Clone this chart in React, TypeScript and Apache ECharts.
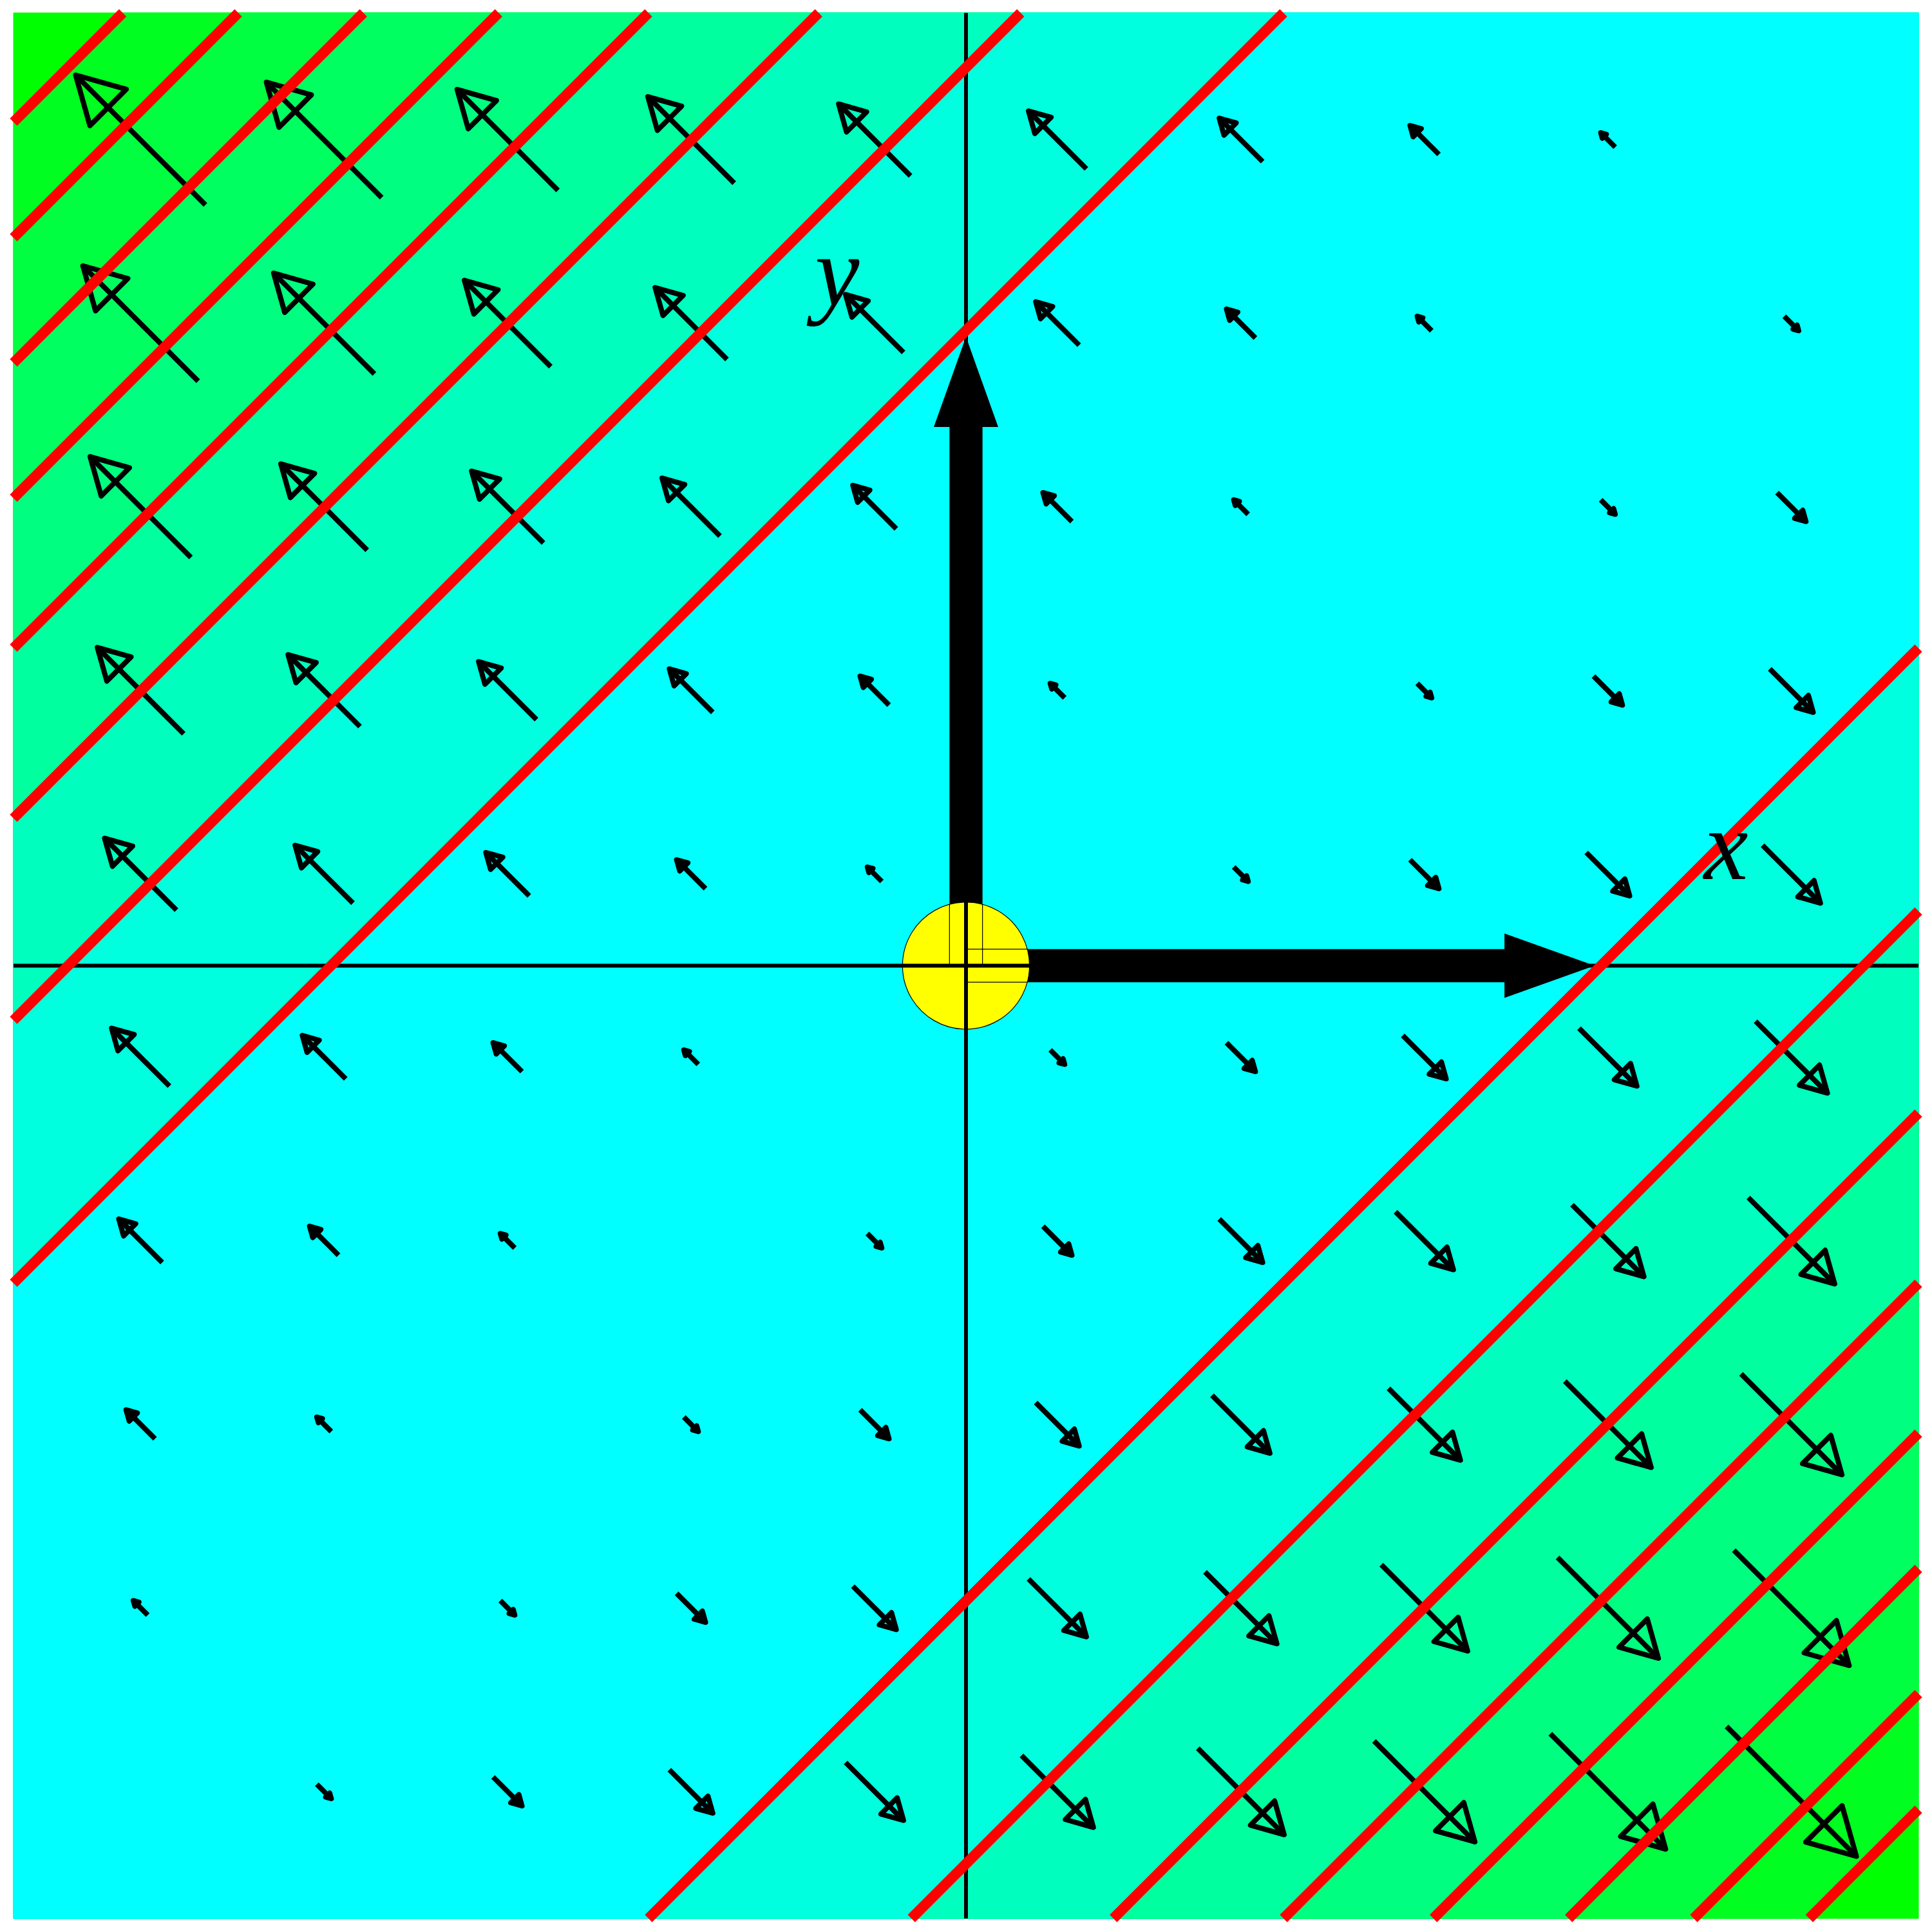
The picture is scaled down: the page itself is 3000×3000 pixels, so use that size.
import React, { useEffect, useRef } from 'react';
import * as echarts from 'echarts';

// Plot domain (both axes)
const axisMin = -1.5;
const axisMax = 1.5;

// Arrow grid (x and y positions of the vector arrows)
const gridValues = [-1.3, -1.011, -0.722, -0.433, -0.144, 0.144, 0.433, 0.722, 1.011, 1.3];

// Field strength d = x - y at each grid node; vector = (d, -d)
// rows from top (y = 1.3) to bottom (y = -1.3), columns left to right
const fieldRows = [
  [-2.6, -2.31, -2.02, -1.73, -1.44, -1.16, -0.87, -0.58, -0.29, 0],
  [-2.31, -2.02, -1.73, -1.44, -1.16, -0.87, -0.58, -0.29, 0, 0.29],
  [-2.02, -1.73, -1.44, -1.16, -0.87, -0.58, -0.29, 0, 0.29, 0.58],
  [-1.73, -1.44, -1.16, -0.87, -0.58, -0.29, 0, 0.29, 0.58, 0.87],
  [-1.44, -1.16, -0.87, -0.58, -0.29, 0, 0.29, 0.58, 0.87, 1.16],
  [-1.16, -0.87, -0.58, -0.29, 0, 0.29, 0.58, 0.87, 1.16, 1.44],
  [-0.87, -0.58, -0.29, 0, 0.29, 0.58, 0.87, 1.16, 1.44, 1.73],
  [-0.58, -0.29, 0, 0.29, 0.58, 0.87, 1.16, 1.44, 1.73, 2.02],
  [-0.29, 0, 0.29, 0.58, 0.87, 1.16, 1.44, 1.73, 2.02, 2.31],
  [0, 0.29, 0.58, 0.87, 1.16, 1.44, 1.73, 2.02, 2.31, 2.6],
];

// Contour levels of |x - y|
const contourLevels = [1, 1.414, 1.732, 2, 2.236, 2.449, 2.646, 2.828];

// Fill colours, innermost band (|x-y| < 1) to outermost
const bandColors = ['#00FFFF', '#00FFDF', '#00FFBF', '#00FF9F', '#00FF80', '#00FF60', '#00FF40', '#00FF20', '#00FF00'];

// Unit axis arrows (tip positions)
const axisArrowTips = [
  [0.99, 0],
  [0, 0.99],
];
const originDiskRadius = 0.1;

const axisLabelTexts = ['x', 'y'];
const axisLabelAnchors = [
  [1.197, 0.189],
  [-0.203, 1.092],
];

const ARROW_SCALE = 0.0786;

export default function App() {
  const ref = useRef<HTMLDivElement>(null);

  useEffect(() => {
    if (!ref.current) return;
    const chart = echarts.init(ref.current, undefined, { renderer: 'svg' });

    const vectorData: number[][] = [];
    fieldRows.forEach((row, r) => {
      row.forEach((d, c) => {
        vectorData.push([gridValues[c], gridValues[gridValues.length - 1 - r], d, -d]);
      });
    });

    const span = axisMax - axisMin;
    const bandData: number[][] = [[span, contourLevels.length]];
    for (let i = contourLevels.length - 1; i >= 0; i--) bandData.push([contourLevels[i], i]);

    const contourData: number[][] = [];
    contourLevels.forEach((c) => {
      contourData.push([c]);
      contourData.push([-c]);
    });

    const lo = axisMin;
    const hi = axisMax;

    const option: any = {
      animation: false,
      tooltip: { show: false },
      grid: { left: 21, right: 21, top: 20, bottom: 21 },
      xAxis: { type: 'value', min: axisMin, max: axisMax, show: false },
      yAxis: { type: 'value', min: axisMin, max: axisMax, show: false },
      series: [
        {
          type: 'custom',
          name: 'bands',
          silent: true,
          z: 1,
          data: bandData,
          renderItem: (params: any, api: any) => {
            const c = api.value(0);
            const ci = api.value(1);
            let pts: number[][];
            if (c >= span) {
              pts = [
                [lo, lo],
                [hi, lo],
                [hi, hi],
                [lo, hi],
              ];
            } else {
              pts = [
                [lo, lo],
                [lo + c, lo],
                [hi, hi - c],
                [hi, hi],
                [hi - c, hi],
                [lo, lo + c],
              ];
            }
            return {
              type: 'polygon',
              shape: { points: pts.map((p) => api.coord(p)) },
              style: { fill: bandColors[ci], stroke: bandColors[ci], lineWidth: 1 },
            };
          },
        },
        {
          type: 'custom',
          name: 'vectors',
          silent: true,
          z: 2,
          data: vectorData,
          renderItem: (params: any, api: any) => {
            const x = api.value(0);
            const y = api.value(1);
            const u = api.value(2);
            const v = api.value(3);
            if (u === 0 && v === 0) return { type: 'group', children: [] };
            const hx = (u * ARROW_SCALE) / 2;
            const hy = (v * ARROW_SCALE) / 2;
            const tail = api.coord([x - hx, y - hy]);
            const tip = api.coord([x + hx, y + hy]);
            const dx = tip[0] - tail[0];
            const dy = tip[1] - tail[1];
            const L = Math.hypot(dx, dy);
            const ux = dx / L;
            const uy = dy / L;
            const hl = 0.25 * L;
            const hw = 0.14 * L;
            const bx = tip[0] - ux * hl;
            const by = tip[1] - uy * hl;
            const p1 = [bx - uy * hw, by + ux * hw];
            const p2 = [bx + uy * hw, by - ux * hw];
            return {
              type: 'group',
              children: [
                {
                  type: 'line',
                  shape: { x1: tail[0], y1: tail[1], x2: tip[0], y2: tip[1] },
                  style: { stroke: '#000', lineWidth: 8, lineCap: 'butt', fill: 'none' },
                },
                {
                  type: 'polygon',
                  shape: { points: [tip, p1, p2] },
                  style: { fill: 'none', stroke: '#000', lineWidth: 8, lineJoin: 'round' },
                },
              ],
            };
          },
        },
        {
          type: 'custom',
          name: 'axisArrows',
          silent: true,
          z: 3,
          data: axisArrowTips,
          renderItem: (params: any, api: any) => {
            const tx = api.value(0);
            const ty = api.value(1);
            const len = Math.hypot(tx, ty);
            const ex = tx / len;
            const ey = ty / len;
            const px = -ey;
            const py = ex;
            const w = 0.026;
            const hw = 0.0507;
            const hb = len - 0.142;
            const P = (a: number, b: number) => api.coord([ex * a + px * b, ey * a + py * b]);
            return {
              type: 'group',
              children: [
                {
                  type: 'polygon',
                  shape: { points: [P(0, -w), P(hb + 0.002, -w), P(hb + 0.002, w), P(0, w)] },
                  style: { fill: '#000' },
                },
                {
                  type: 'polygon',
                  shape: { points: [P(hb, -hw), P(len, 0), P(hb, hw)] },
                  style: { fill: '#000' },
                },
              ],
            };
          },
        },
        {
          type: 'custom',
          name: 'originDisk',
          silent: true,
          z: 4,
          data: [[0, 0, originDiskRadius]],
          renderItem: (params: any, api: any) => {
            const cx = api.value(0);
            const cy = api.value(1);
            const rr = api.value(2);
            const c = api.coord([cx, cy]);
            const r = api.size([rr, 0])[0];
            const w = 0.026;
            const reach = Math.sqrt(rr * rr - w * w);
            const seg = (a: number[], b: number[]) => {
              const A = api.coord(a);
              const B = api.coord(b);
              return {
                type: 'line',
                shape: { x1: A[0], y1: A[1], x2: B[0], y2: B[1] },
                style: { stroke: '#000', lineWidth: 1.2, fill: 'none' },
              };
            };
            return {
              type: 'group',
              children: [
                {
                  type: 'circle',
                  shape: { cx: c[0], cy: c[1], r },
                  style: { fill: '#FFFF00', stroke: '#000', lineWidth: 1.2 },
                },
                seg([cx - w, cy], [cx - w, cy + reach]),
                seg([cx + w, cy], [cx + w, cy + reach]),
                seg([cx, cy + w], [cx + reach, cy + w]),
                seg([cx, cy - w], [cx + reach, cy - w]),
              ],
            };
          },
        },
        {
          type: 'custom',
          name: 'axisLines',
          silent: true,
          z: 5,
          data: [
            [axisMin, 0, axisMax, 0],
            [0, axisMin, 0, axisMax],
          ],
          renderItem: (params: any, api: any) => {
            const A = api.coord([api.value(0), api.value(1)]);
            const B = api.coord([api.value(2), api.value(3)]);
            return {
              type: 'line',
              shape: { x1: A[0], y1: A[1], x2: B[0], y2: B[1] },
              style: { stroke: '#000', lineWidth: 6, fill: 'none' },
            };
          },
        },
        {
          type: 'custom',
          name: 'contours',
          silent: true,
          z: 6,
          data: contourData,
          renderItem: (params: any, api: any) => {
            const d = api.value(0);
            let a: number[];
            let b: number[];
            if (d >= 0) {
              a = [lo + d, lo];
              b = [hi, hi - d];
            } else {
              a = [lo, lo - d];
              b = [hi + d, hi];
            }
            const A = api.coord(a);
            const B = api.coord(b);
            return {
              type: 'line',
              shape: { x1: A[0], y1: A[1], x2: B[0], y2: B[1] },
              style: { stroke: '#FF0000', lineWidth: 16, lineCap: 'butt', fill: 'none' },
            };
          },
        },
        {
          type: 'custom',
          name: 'labels',
          silent: true,
          z: 7,
          data: axisLabelAnchors.map((p, i) => [p[0], p[1], i]),
          renderItem: (params: any, api: any) => {
            const pt = api.coord([api.value(0), api.value(1)]);
            const i = api.value(2);
            return {
              type: 'text',
              x: pt[0],
              y: pt[1],
              style: {
                text: axisLabelTexts[i],
                fontSize: 155,
                fontFamily: '"Liberation Serif", "Times New Roman", serif',
                fontStyle: 'italic',
                fill: '#000',
                align: 'center',
                verticalAlign: 'middle',
              },
            };
          },
        },
      ],
    };

    chart.setOption(option);
    return () => {
      chart.dispose();
    };
  }, []);

  return (
    <div
      ref={ref}
      style={{ position: 'absolute', left: 0, top: 0, width: 3000, height: 3000 }}
    />
  );
}
